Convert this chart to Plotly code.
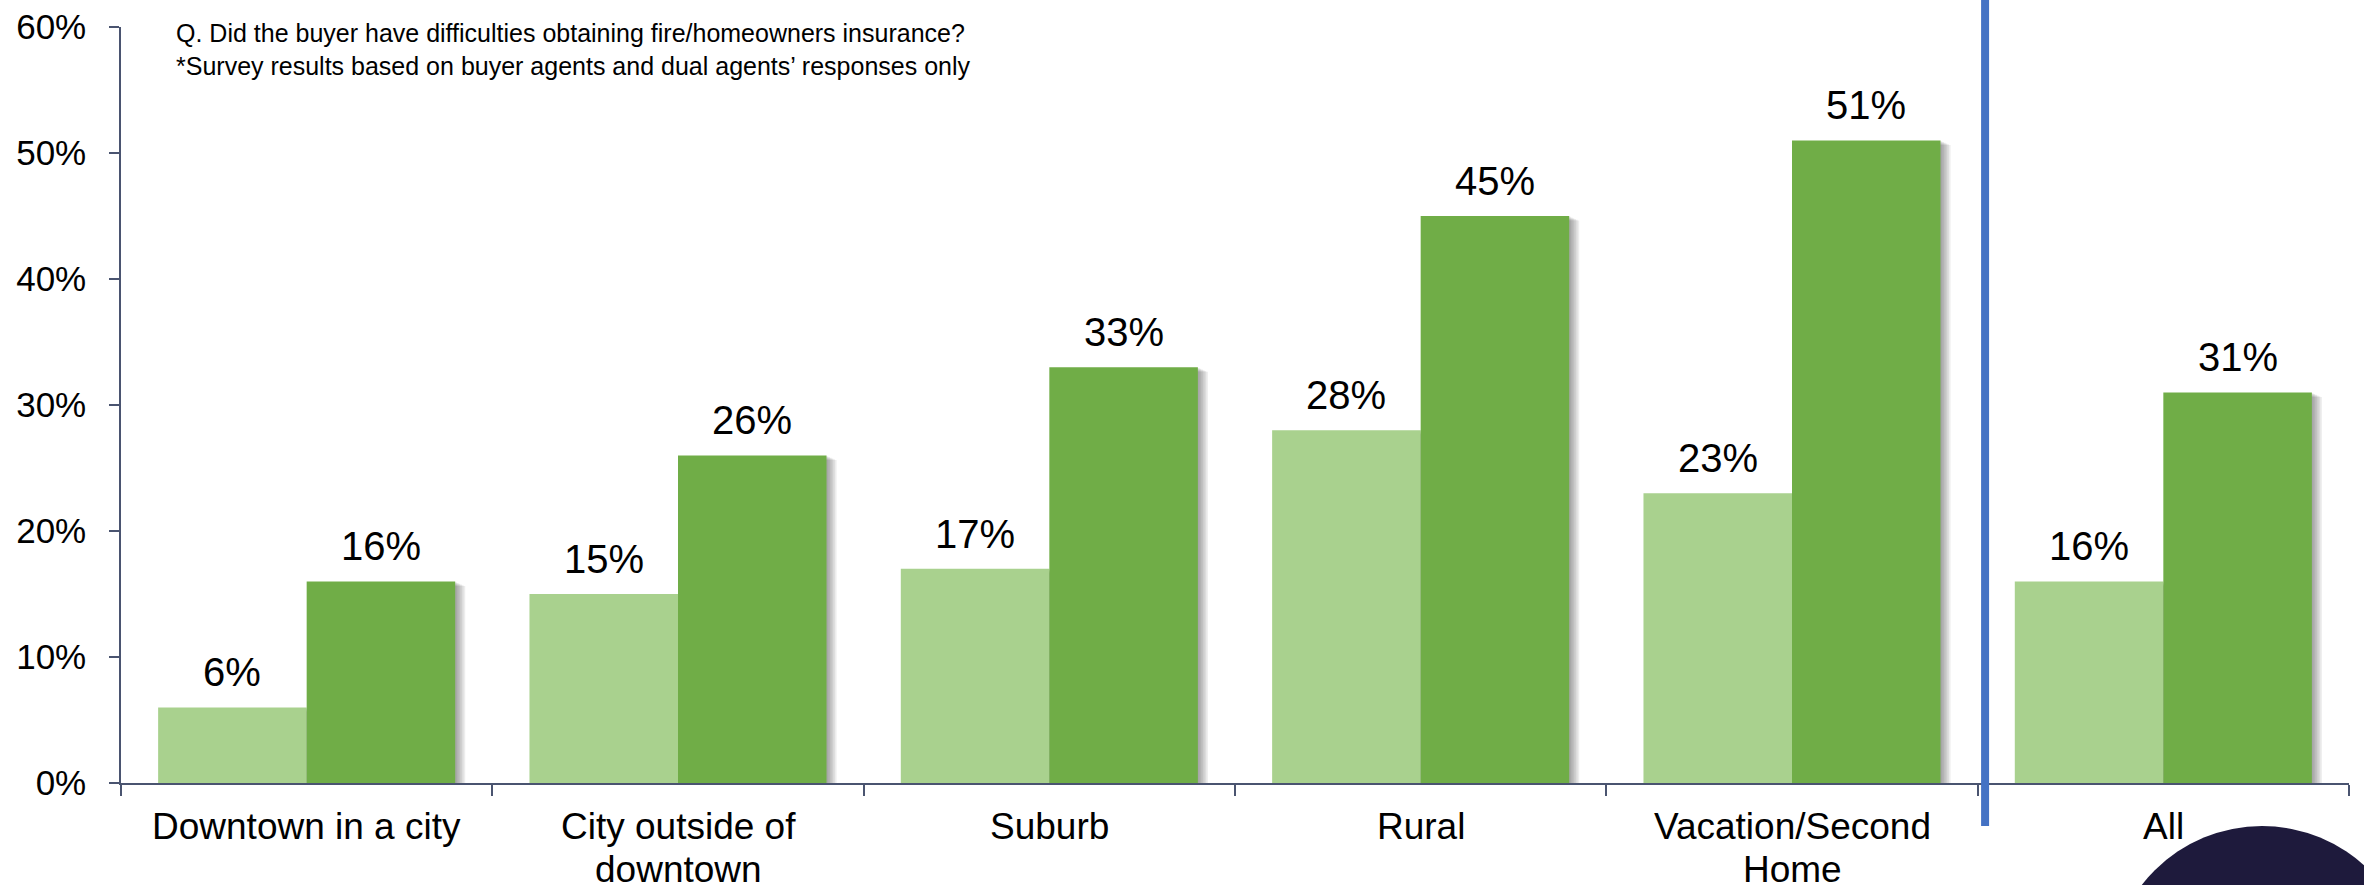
import plotly.graph_objects as go

# Survey data: share of buyers reporting difficulty obtaining fire/homeowners insurance
categories = [
    "Downtown in a city",
    "City outside of<br>downtown",
    "Suburb",
    "Rural",
    "Vacation/Second<br>Home",
    "All",
]
series_light = [6, 15, 17, 28, 23, 16]
series_dark = [16, 26, 33, 45, 51, 31]
y_ticks = [0, 10, 20, 30, 40, 50, 60]

LIGHT = "#A9D18E"
DARK = "#70AD47"
AXIS = "#4A5470"
FONT = "Liberation Sans, Arial, sans-serif"

W, H = 2364, 885
M_L, M_R, M_T, M_B = 121, 15, 27, 102
PLOT_W = W - M_L - M_R
PLOT_H = H - M_T - M_B


def px_to_paper_x(px):
    return (px - M_L) / PLOT_W


def px_to_paper_y(py):
    return (H - M_B - py) / PLOT_H


BAR_W = 0.4
fig = go.Figure()

# soft drop shadows behind the bars (several faint offset layers)
for vals, off in ((series_light, -BAR_W), (series_dark, 0.0)):
    for k in range(1, 7):
        fig.add_trace(go.Bar(
            x=categories,
            y=[v - 0.06 * k for v in vals],
            width=BAR_W,
            offset=off + 0.0045 * k,
            marker=dict(color="rgba(50,50,50,0.09)", line=dict(width=0)),
            hoverinfo="skip",
            showlegend=False,
        ))

fig.add_trace(go.Bar(
    name="Series 1", x=categories, y=series_light, width=BAR_W, offset=-BAR_W,
    marker=dict(color=LIGHT, line=dict(width=0)), showlegend=False,
))
fig.add_trace(go.Bar(
    name="Series 2", x=categories, y=series_dark, width=BAR_W, offset=0.0,
    marker=dict(color=DARK, line=dict(width=0)), showlegend=False,
))

# value labels above each bar
for i, (a, b) in enumerate(zip(series_light, series_dark)):
    for val, xc in ((a, i - BAR_W / 2), (b, i + BAR_W / 2)):
        fig.add_annotation(
            x=xc, y=val, xref="x", yref="y", text=f"{val}%", showarrow=False,
            yanchor="bottom", yshift=11,
            font=dict(family=FONT, size=40, color="#000000"),
        )

# category labels, one annotation per line for tight line spacing
LINE_1_MID, LINE_STEP = 826, 43
for i, cat in enumerate(categories):
    for j, line in enumerate(cat.split("<br>")):
        fig.add_annotation(
            x=i, xref="x", yref="paper", y=px_to_paper_y(LINE_1_MID + j * LINE_STEP),
            text=line, showarrow=False, yanchor="middle", xanchor="center",
            font=dict(family=FONT, size=37, color="#000000"),
        )

# question note
fig.add_annotation(
    xref="paper", yref="paper",
    x=px_to_paper_x(174), y=px_to_paper_y(17),
    xanchor="left", yanchor="top", align="left", showarrow=False,
    text="Q. Did the buyer have difficulties obtaining fire/homeowners insurance?"
         "<br>*Survey results based on buyer agents and dual agents\u2019 responses only",
    font=dict(family=FONT, size=25, color="#000000"),
)

# separator between segments and the overall figure
fig.add_shape(
    type="line", xref="x", yref="paper",
    x0=4.52, x1=4.52, y0=px_to_paper_y(0), y1=px_to_paper_y(826),
    line=dict(color="#4472C4", width=8), layer="above",
)

# dark corner disc
cx, cy, r = 2262, 978, 152
fig.add_shape(
    type="circle", xref="paper", yref="paper",
    x0=px_to_paper_x(cx - r), x1=px_to_paper_x(cx + r),
    y0=px_to_paper_y(cy + r), y1=px_to_paper_y(cy - r),
    fillcolor="#1E1A3C", line=dict(width=0), layer="above",
)

fig.update_layout(
    width=W, height=H,
    margin=dict(l=M_L, r=M_R, t=M_T, b=M_B),
    barmode="overlay",
    plot_bgcolor="white", paper_bgcolor="white",
    font=dict(family=FONT, color="#000000"),
    showlegend=False,
)
fig.update_xaxes(
    type="category",
    range=[-0.5, 5.5],
    showline=True, linecolor=AXIS, linewidth=2,
    ticks="outside", tickson="boundaries", ticklen=11, tickcolor=AXIS, tickwidth=1.5,
    showticklabels=False,
    showgrid=False, zeroline=False, automargin=False,
)
fig.update_yaxes(
    range=[0, 60],
    tickvals=y_ticks, ticktext=[f"{t}%" for t in y_ticks],
    showline=True, linecolor=AXIS, linewidth=1.5,
    ticks="outside", ticklen=10, tickcolor=AXIS, tickwidth=1.5,
    ticklabelstandoff=16,
    tickfont=dict(family=FONT, size=35, color="#000000"),
    showgrid=False, zeroline=False, automargin=False,
)

fig.write_html("out.html")
